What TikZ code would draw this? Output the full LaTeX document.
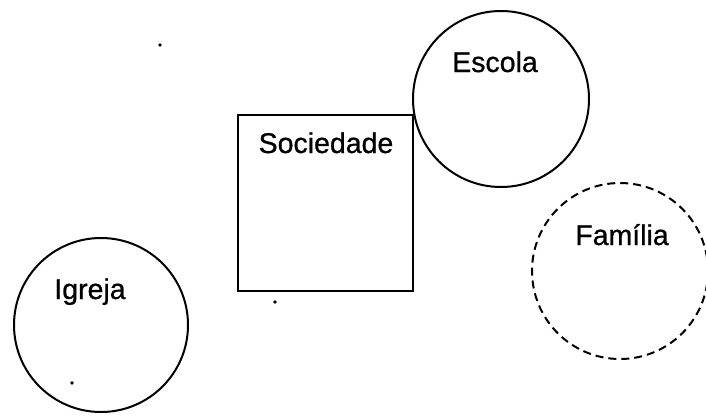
\documentclass[tikz,border=0pt]{standalone}
\usepackage{fontspec}
\setmainfont{Liberation Sans}
\newfontfamily\lblfont[FakeBold=0.8]{Liberation Sans}
\begin{document}
\begin{tikzpicture}[x=1pt,y=-1pt,
  shapeline/.style={draw=black,line width=2pt,inner sep=0pt},
  ring/.style={shapeline,circle,minimum size=176pt},
  dashring/.style={ring,dash pattern=on 8pt off 5pt},
  lbl/.style={anchor=base,inner sep=0pt,font=\lblfont\fontsize{28.5}{34}\selectfont},
  speck/.style={circle,fill=black,inner sep=0pt,minimum size=3.8pt}]
\useasboundingbox (0,0) rectangle (706,415);
\node[shapeline,rectangle,minimum width=175pt,minimum height=176pt] (soc) at (325.5,203) {};
\node[ring] (esc) at (501,99) {};
\node[dashring] (fam) at (620,271) {};
\node[ring,minimum size=174pt] (igr) at (101,325) {};
\node[lbl] (tsoc) at (326,153) {Sociedade};
\node[lbl] (tesc) at (495,72) {Escola};
\node[lbl] (tfam) at (622,245) {Família};
\node[lbl] (tigr) at (90,299) {Igreja};
\node[speck] (d1) at (160,45) {};
\node[speck] (d2) at (275,302) {};
\node[speck] (d3) at (72,383) {};
\end{tikzpicture}
\end{document}
